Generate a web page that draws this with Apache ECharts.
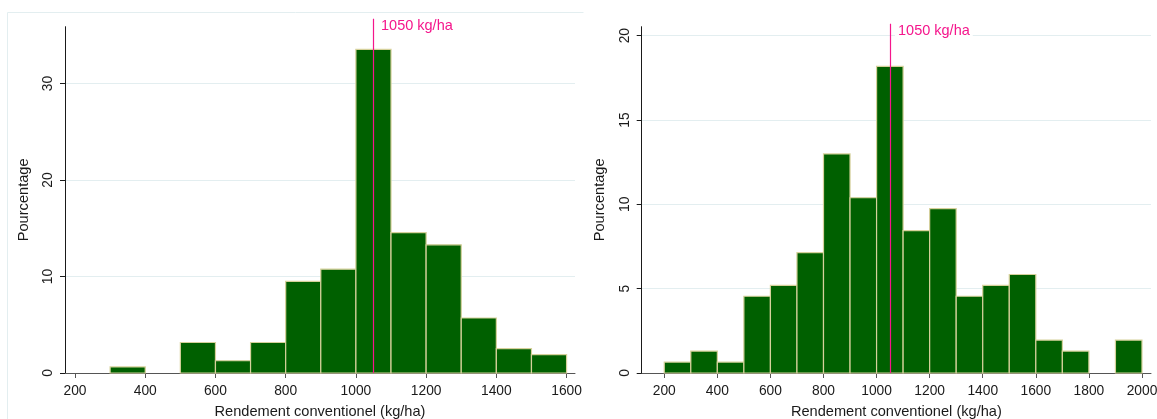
<!DOCTYPE html>
<html><head><meta charset="utf-8">
<script src="https://cdn.jsdelivr.net/npm/echarts@6/dist/echarts.min.js"></script>
<style>html,body{margin:0;padding:0;background:#fff}#c{width:1157px;height:419px}</style>
</head><body><div id="c"></div>
<script>
// ---- data ----
const binWidth = 100;
const leftBinStarts = [300, 400, 500, 600, 700, 800, 900, 1000, 1100, 1200, 1300, 1400, 1500];
const leftPercent   = [0.63, 0, 3.16, 1.27, 3.16, 9.49, 10.76, 33.54, 14.56, 13.29, 5.70, 2.53, 1.90];
const rightBinStarts = [200, 300, 400, 500, 600, 700, 800, 900, 1000, 1100, 1200, 1300, 1400, 1500, 1600, 1700, 1800, 1900];
const rightPercent   = [0.65, 1.30, 0.65, 4.55, 5.19, 7.14, 12.99, 10.39, 18.18, 8.44, 9.74, 4.55, 5.19, 5.84, 1.95, 1.30, 0, 1.95];
const leftXTicks  = [200, 400, 600, 800, 1000, 1200, 1400, 1600];
const rightXTicks = [200, 400, 600, 800, 1000, 1200, 1400, 1600, 1800, 2000];
const leftYTicks  = [0, 10, 20, 30];
const rightYTicks = [0, 5, 10, 15, 20];
const refValue = 1050;
const refLabel = '1050 kg/ha';
const xTitle = 'Rendement conventionel (kg/ha)';
const yTitle = 'Pourcentage';

// ---- styles ----
const FONT = '"Liberation Sans", Arial, Helvetica, sans-serif';
const TXT = '#1a1a1a';
const PINK = '#f5168c';
const BAR = '#006000';
const BAR_EDGE = '#d6d19b';
const GRIDC = '#e3eef0';

function histItem(params, api) {
  const x0 = api.value(0), h = api.value(1);
  if (!h) return { type: 'group', children: [] };
  const p0 = api.coord([x0, 0]);
  const p1 = api.coord([x0 + binWidth, h]);
  return {
    type: 'rect',
    shape: { x: p0[0], y: p1[1], width: p1[0] - p0[0], height: p0[1] - p1[1] },
    style: { fill: BAR, stroke: BAR_EDGE, lineWidth: 1.2 }
  };
}
function refItem(overhang) {
  return function (params, api) {
    const base = api.coord([api.value(0), 0]);
    const top = params.coordSys.y - overhang;
    const x = Math.round(base[0]) + 0.5;
    return {
      type: 'group', children: [
        { type: 'line', shape: { x1: x, y1: base[1], x2: x, y2: top },
          style: { stroke: PINK, lineWidth: 1.2 } },
        { type: 'text', x: x + 4.5, y: top + 7.5,
          style: { text: refLabel, fill: PINK, fontSize: 14.5, fontFamily: FONT,
                   align: 'left', verticalAlign: 'middle', backgroundColor: '#fff', padding: [0, 3] } }
      ]
    };
  };
}
const plain = v => String(v);
function xAxisDef(idx, min, max, ticks) {
  return {
    type: 'value', gridIndex: idx, min: min, max: max,
    name: xTitle, nameLocation: 'middle', nameGap: 31,
    nameTextStyle: { fontSize: 14.6, color: TXT, fontFamily: FONT },
    axisLine: { show: true, onZero: false, lineStyle: { color: '#555', width: 1 } },
    axisTick: { show: true, length: 5, customValues: ticks, lineStyle: { color: '#555' } },
    axisLabel: { customValues: ticks, formatter: plain, fontSize: 13.8, color: TXT, fontFamily: FONT, margin: 11 },
    splitLine: { show: false }
  };
}
function yAxisDef(idx, max, ticks, interval) {
  return {
    type: 'value', gridIndex: idx, min: 0, max: max, interval: interval,
    name: yTitle, nameLocation: 'middle', nameGap: 34,
    nameTextStyle: { fontSize: 14.6, color: TXT, fontFamily: FONT },
    axisLine: { show: true, lineStyle: { color: '#1a1a1a', width: 1 } },
    axisTick: { show: true, length: 5, customValues: ticks, lineStyle: { color: '#1a1a1a' } },
    axisLabel: { customValues: ticks, formatter: plain, rotate: 90, fontSize: 13.8, color: TXT, fontFamily: FONT, margin: 10 },
    splitLine: { show: true, lineStyle: { color: GRIDC, width: 1 } }
  };
}

const chart = echarts.init(document.getElementById('c'), null, { renderer: 'canvas' });
chart.setOption({
  backgroundColor: '#fff',
  animation: false,
  textStyle: { fontFamily: FONT },
  graphic: [{
    type: 'polyline', silent: true, z: -10,
    shape: { points: [[7.5, 430], [7.5, 12.5], [583.5, 12.5]] },
    style: { fill: null, stroke: '#e3eef0', lineWidth: 1 }
  }],
  grid: [
    { left: 65, top: 26.7, width: 510, height: 346.3, outerBoundsMode: 'none', containLabel: false },
    { left: 641.7, top: 26.7, width: 509.3, height: 346.3, outerBoundsMode: 'none', containLabel: false }
  ],
  xAxis: [xAxisDef(0, 171.5, 1624, leftXTicks), xAxisDef(1, 115, 2034, rightXTicks)],
  yAxis: [yAxisDef(0, 35.9, leftYTicks, 10), yAxisDef(1, 20.53, rightYTicks, 5)],
  series: [
    { type: 'custom', xAxisIndex: 0, yAxisIndex: 0, renderItem: histItem,
      data: leftBinStarts.map((b, i) => [b, leftPercent[i]]), encode: { x: 0, y: 1 }, z: 2 },
    { type: 'custom', xAxisIndex: 1, yAxisIndex: 1, renderItem: histItem,
      data: rightBinStarts.map((b, i) => [b, rightPercent[i]]), encode: { x: 0, y: 1 }, z: 2 },
    { type: 'custom', xAxisIndex: 0, yAxisIndex: 0, renderItem: refItem(8), clip: false,
      data: [[refValue, 0]], encode: { x: 0, y: 1 }, z: 5 },
    { type: 'custom', xAxisIndex: 1, yAxisIndex: 1, renderItem: refItem(3), clip: false,
      data: [[refValue, 0]], encode: { x: 0, y: 1 }, z: 5 }
  ]
});
</script>
</body></html>
